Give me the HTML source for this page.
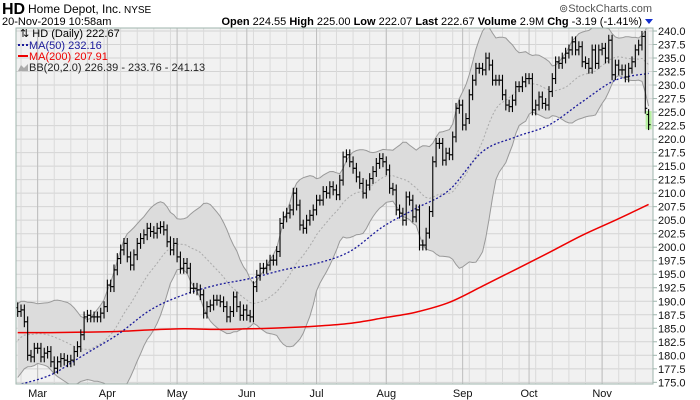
<!DOCTYPE html>
<html><head><meta charset="utf-8"><style>
html,body{margin:0;padding:0;background:#fff;}
svg{display:block;font-family:"Liberation Sans",sans-serif;}
</style></head><body>
<svg id="chart" width="700" height="400" viewBox="0 0 700 400" xmlns="http://www.w3.org/2000/svg">
<defs><clipPath id="pc"><rect x="16" y="28" width="637" height="356"/></clipPath></defs>
<text x="2" y="14" font-size="16" font-weight="bold">HD</text>
<text x="28" y="13" font-size="12">Home Depot, Inc.</text>
<text x="124" y="13" font-size="10">NYSE</text>
<text x="2" y="25" font-size="11">20-Nov-2019 10:58am</text>
<text x="652" y="12" font-size="11" fill="#555" text-anchor="end">⊚StockCharts.com</text>
<text x="642" y="25" font-size="11" text-anchor="end"><tspan font-weight="bold">Open</tspan> 224.55 <tspan font-weight="bold">High</tspan> 225.00 <tspan font-weight="bold">Low</tspan> 222.07 <tspan font-weight="bold">Last</tspan> 222.67 <tspan font-weight="bold">Volume</tspan> 2.9M <tspan font-weight="bold">Chg</tspan> -3.19 (-1.41%)</text>
<path d="M645,19 L653,19 L649,24 Z" fill="#1530d0"/>
<rect x="16" y="28" width="637" height="356" fill="#f1f1f1"/>
<g id="grid"></g>
<g id="marks" clip-path="url(#pc)"></g>
<rect x="16" y="28" width="637" height="356" fill="none" stroke="#9fb5ad" stroke-width="1"/>
<g id="axes"></g>
<g font-size="11">
<text x="20" y="37">⇅ HD (Daily) 222.67</text>
<line x1="18" y1="45" x2="28" y2="45" stroke="#1a1a9a" stroke-width="2" stroke-dasharray="2,2"/>
<text x="29" y="49" fill="#1a1a9a">MA(50) 232.16</text>
<line x1="18" y1="56" x2="28" y2="56" stroke="#e00" stroke-width="2"/>
<text x="29" y="60" fill="#e00">MA(200) 207.91</text>
<path d="M18,71 L21,65 L24,68 L28,64 L28,71 Z" fill="#aaa"/>
<text x="29" y="71" fill="#222">BB(20,2.0) 226.39 - 233.76 - 241.13</text>
</g>
</svg>
<script>
const closes = [188.1,188.4,186.2,180.0,179.7,181.3,181.3,179.7,180.4,180.7,178.8,177.6,178.8,179.4,179.1,178.8,179.1,180.7,181.6,183.8,187.1,187.4,187.1,187.1,187.1,187.8,189.0,193.0,192.7,195.8,197.9,199.5,200.7,198.2,196.7,198.6,200.7,201.6,202.3,203.5,202.9,202.6,203.5,203.8,203.2,201.0,199.5,200.7,198.2,196.1,197.0,196.1,192.4,192.4,192.1,191.2,187.8,189.0,189.3,190.2,190.2,189.9,189.0,187.1,188.1,190.8,189.0,187.4,188.4,187.4,187.1,192.7,
194.8,196.1,196.1,196.7,197.6,197.6,199.2,204.4,205.6,206.3,206.9,210.0,207.8,204.1,203.5,205.0,205.9,206.9,208.7,208.7,210.3,210.0,211.2,210.6,209.7,212.4,216.7,217.1,215.8,214.6,213.0,211.8,210.0,211.5,212.7,214.0,215.5,216.4,215.8,214.3,210.9,210.6,206.9,206.3,205.0,209.3,208.7,205.6,206.9,200.4,200.4,202.6,206.6,215.8,219.2,219.2,216.1,217.4,217.1,220.4,
225.7,226.3,222.6,223.8,228.2,230.9,233.1,233.1,232.8,235.0,233.7,230.9,230.9,230.9,228.2,226.3,226.0,227.2,229.7,229.7,230.6,231.2,231.2,225.4,226.3,227.8,226.6,226.3,228.8,231.2,234.3,234.0,235.0,235.9,236.5,238.0,236.5,237.1,234.3,234.0,233.1,236.5,234.0,236.5,236.8,235.0,238.3,231.9,233.7,232.8,232.8,231.5,233.1,234.3,236.5,237.4,239.0,225.7,222.67];
const priorCloses = [176.5,177.8,178.2,179.5,180.0,179.2,180.6,181.5,182.8,183.0,182.2,183.6,184.5,185.0,184.4,185.8,186.6,187.3,188.0];
const firstOpen = 188.8;
const lastOpen = 224.55;
const ma50Samples = [174.5,176.4,180.1,183.8,188.4,191.2,193.0,194.2,195.8,197.0,199.2,203.8,207.2,210.6,217.7,220.4,222.6,226.9,230.9,232.16];
const ma200Samples = [184.2,184.2,184.3,184.4,184.7,184.9,184.8,184.9,185.1,185.4,185.9,186.9,188.0,189.8,192.8,195.9,199.0,202.2,205.0,207.91];
const sampleStep = 10;
const monthLabels = ["Mar","Apr","May","Jun","Jul","Aug","Sep","Oct","Nov"];
const monthStartIdx = [6,27,48,69,90,111,134,154,176];
const yTicks = [175,177.5,180,182.5,185,187.5,190,192.5,195,197.5,200,202.5,205,207.5,210,212.5,215,217.5,220,222.5,225,227.5,230,232.5,235,237.5,240];

const NS="http://www.w3.org/2000/svg";
const n = closes.length;
const X0=17.7, XR=648.6;
const step=(XR-X0)/(n-1);
function xS(i){return X0+i*step;}
function yS(p){return 31+(240-p)*5.405;}
function mk(tag,attrs,parent){const e=document.createElementNS(NS,tag);for(const k in attrs)e.setAttribute(k,attrs[k]);parent.appendChild(e);return e;}
function smooth(pts){
  let d='M'+pts[0][0].toFixed(1)+','+pts[0][1].toFixed(1);
  for(let i=0;i<pts.length-1;i++){
    const p0=pts[Math.max(i-1,0)],p1=pts[i],p2=pts[i+1],p3=pts[Math.min(i+2,pts.length-1)];
    const c1=[p1[0]+(p2[0]-p0[0])/6,p1[1]+(p2[1]-p0[1])/6];
    const c2=[p2[0]-(p3[0]-p1[0])/6,p2[1]-(p3[1]-p1[1])/6];
    d+=' C'+c1[0].toFixed(1)+','+c1[1].toFixed(1)+' '+c2[0].toFixed(1)+','+c2[1].toFixed(1)+' '+p2[0].toFixed(1)+','+p2[1].toFixed(1);
  }
  return d;
}
const grid=document.getElementById('grid'), marks=document.getElementById('marks'), axes=document.getElementById('axes');

yTicks.forEach(t=>{
  const y=yS(t);
  const gl=mk('line',{x1:16,x2:653,y1:y,y2:y,stroke:'#d4d4d4','stroke-width':1},grid);
  
  
  const tk=mk('line',{x1:653,x2:657,y1:y,y2:y,stroke:'#9fb5ad','stroke-width':1},axes);
  
  
  const tx=mk('text',{x:658,y:y+4,'font-size':11,fill:'#111'},axes);
  tx.textContent=t.toFixed(1);
  
  
});
for(let i=monthStartIdx[0]%5;i<n;i+=5){
  const x=xS(i);
  const wl=mk('line',{x1:x,x2:x,y1:28,y2:384,stroke:'#dadada','stroke-width':1},grid);
  
  
}
monthStartIdx.forEach((idx,k)=>{
  const x=xS(idx);
  const ml=mk('line',{x1:x,x2:x,y1:28,y2:384,stroke:'#bdbdbd','stroke-width':1},grid);
  
  
  const tx=mk('text',{x:x,y:397,'font-size':11,'text-anchor':'middle',fill:'#111'},axes);
  tx.textContent=monthLabels[k];
  
  
});

const all=priorCloses.concat(closes);
const up=[],lo=[],mid=[];
for(let i=0;i<n;i++){
  const w=all.slice(i,i+20);
  const m=w.reduce((a,b)=>a+b,0)/w.length;
  const sd=Math.sqrt(w.reduce((a,b)=>a+(b-m)*(b-m),0)/w.length);
  mid.push(m);up.push(m+2*sd);lo.push(m-2*sd);
}
let d='M'+up.map((v,i)=>xS(i).toFixed(1)+','+yS(v).toFixed(1)).join(' L');
d+=' L'+lo.map((v,i)=>xS(i).toFixed(1)+','+yS(v).toFixed(1)).reverse().join(' L')+' Z';
const band=mk('path',{d:d,fill:'#dcdcdc',stroke:'none'},marks);


[['bb-upper',up],['bb-lower',lo]].forEach(([nm,arr])=>{
  const p=mk('polyline',{points:arr.map((v,i)=>xS(i).toFixed(1)+','+yS(v).toFixed(1)).join(' '),fill:'none',stroke:'#999','stroke-width':1},marks);
  
  
});
const midL=mk('polyline',{points:mid.map((v,i)=>xS(i).toFixed(1)+','+yS(v).toFixed(1)).join(' '),fill:'none',stroke:'#aaa','stroke-width':1,'stroke-dasharray':'2,2'},marks);



const ma200=mk('path',{d:smooth(ma200Samples.map((v,k)=>[xS(Math.min(k*sampleStep,n-1)),yS(v)])),fill:'none',stroke:'#e00','stroke-width':1.5},marks);


const ma50=mk('path',{d:smooth(ma50Samples.map((v,k)=>[xS(Math.min(k*sampleStep,n-1)),yS(v)])),fill:'none',stroke:'#1a1a9a','stroke-width':1.3,'stroke-dasharray':'2,2'},marks);



const hl=mk('rect',{x:xS(n-1)-3,y:yS(225.2),width:6,height:yS(221.8)-yS(225.2),fill:'#b6f0a0'},marks);



for(let i=0;i<n;i++){
  const c=closes[i];
  const o= i===0?firstOpen:(i===n-1?lastOpen:closes[i-1]);
  const h=Math.max(o,c)+1.0, l=Math.min(o,c)-1.0;
  const x=xS(i);
  const g=mk('g',{stroke:'#000','stroke-width':1.1},marks);
  
  
  mk('line',{x1:x,x2:x,y1:yS(h),y2:yS(l)},g);
  mk('line',{x1:x-2,x2:x,y1:yS(o),y2:yS(o)},g);
  mk('line',{x1:x,x2:x+2,y1:yS(c),y2:yS(c)},g);
}
</script>
</body></html>
